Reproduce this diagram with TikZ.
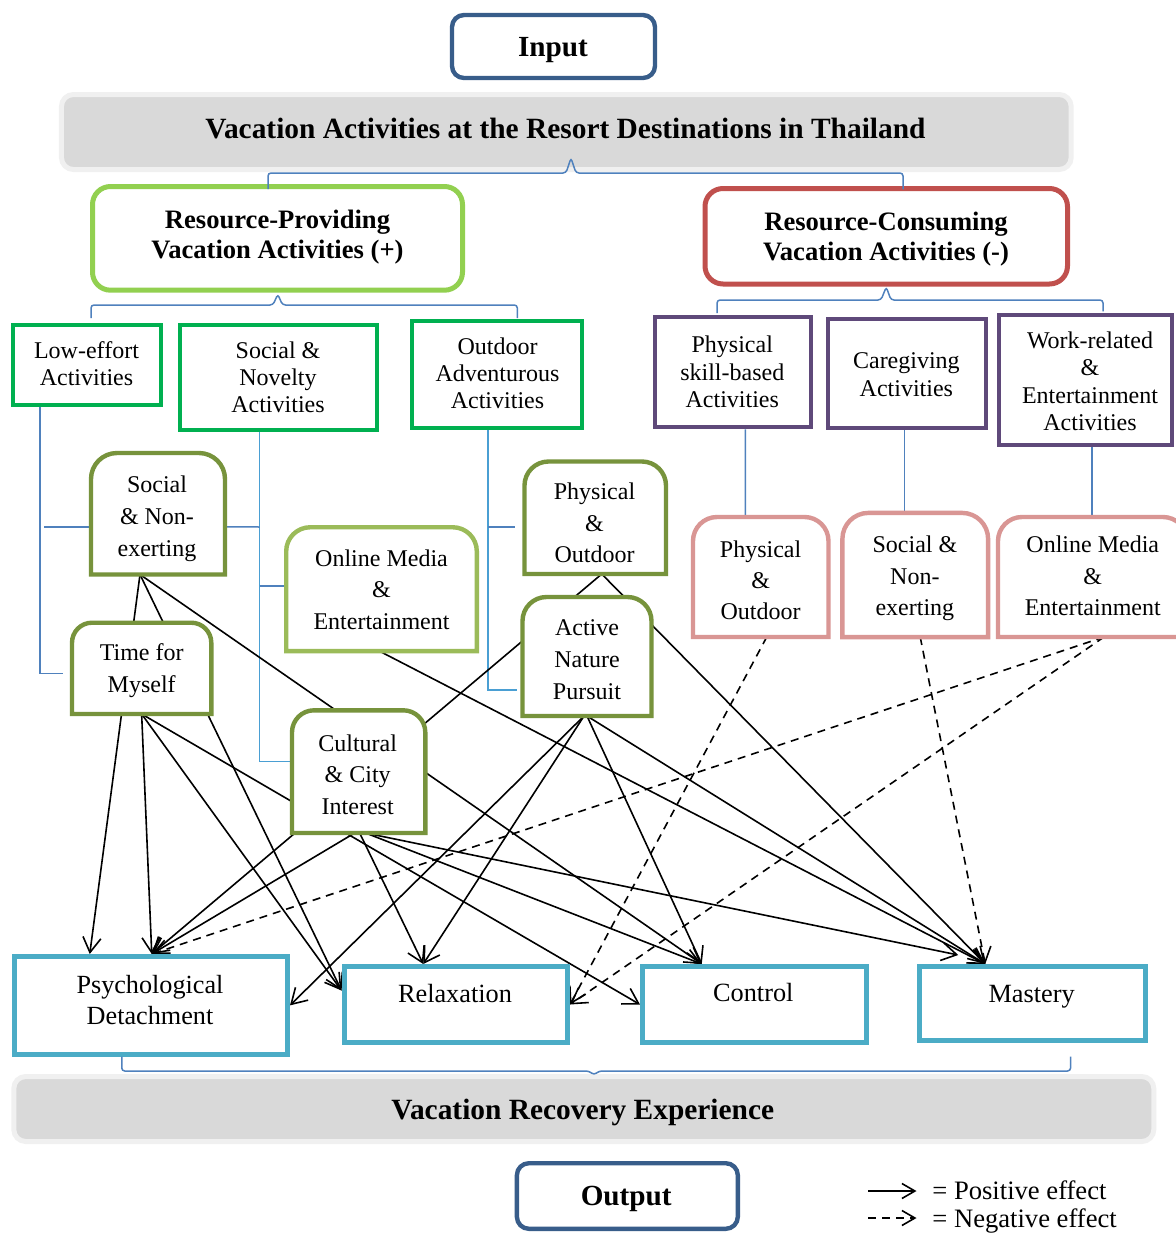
\documentclass[tikz,border=0pt]{standalone}
\usepackage{fontspec}
\setmainfont{Liberation Serif}
\usetikzlibrary{arrows.meta,calc,backgrounds}
\definecolor{inblue}{HTML}{385D8A}
\definecolor{rpgreen}{HTML}{92D050}
\definecolor{rcred}{HTML}{C0504D}
\definecolor{catgreen}{HTML}{00B050}
\definecolor{purp}{HTML}{5F497A}
\definecolor{colOlive}{HTML}{77933C}
\definecolor{colLight}{HTML}{9BBB59}
\definecolor{colPink}{HTML}{D99694}
\definecolor{colCyan}{HTML}{4BACC6}
\definecolor{colTree}{HTML}{4F81BD}
\definecolor{colTreeB}{HTML}{4A9FD3}
\definecolor{colBar}{HTML}{D9D9D9}
\definecolor{colRing}{HTML}{F0F0F0}
\newcommand{\myfs}[2]{\fontsize{#1}{#2}\selectfont}
% outline with rounded top corners and square bottom corners
\newcommand{\topround}[3]{%
  \filldraw[fill=white, draw=#2, line width=2.2pt, line join=miter]
    (#1.south west) -- ($(#1.north west)+(0,#3)$)
    arc[start angle=180, end angle=90, radius={#3*0.5pt}]
    -- ($(#1.north east)+(-#3,0)$)
    arc[start angle=90, end angle=0, radius={#3*0.5pt}]
    -- (#1.south east) -- cycle;}
\begin{document}
\begin{tikzpicture}[x=0.5pt,y=-0.5pt,
  box/.style={rectangle, inner sep=0pt, fill=white, draw},
  cat/.style={box, draw=catgreen, line width=2pt},
  pur/.style={box, draw=purp, line width=2pt},
  cyb/.style={box, draw=colCyan, line width=2.5pt},
  shp/.style={rectangle, inner sep=0pt, outer sep=0pt},
  t/.style={align=center, inner sep=0pt, outer sep=0pt, execute at begin node=\strut, execute at end node=\strut},
  arr/.style={line width=0.8pt, -{Straight Barb[length=7.5pt,width=9pt]}},
  neg/.style={arr, dash pattern=on 4pt off 3pt},
  tree/.style={draw=colTree, line width=0.75pt},
  treeb/.style={draw=colTreeB, line width=0.75pt},
  brace/.style={draw=colTree, line width=0.75pt, rounded corners=1.5pt}]
\useasboundingbox (0,0) rectangle (1175,1233);
\begin{scope}[on background layer]
  \fill[white] (0,0) rectangle (1175,1233);
\end{scope}

% ---------- boxes ----------
\node[box, draw=inblue, line width=2.2pt, rounded corners=6pt, minimum width=101.5pt, minimum height=31.5pt] (input) at (553.5,46.5) {};
\node[box, draw=colRing, fill=colBar, line width=2.5pt, rounded corners=6pt, minimum width=504.85pt, minimum height=37.5pt] (title) at (566.3,132) {};
\node[box, draw=rpgreen, line width=2.5pt, rounded corners=9pt, minimum width=185pt, minimum height=51.85pt] (rp) at (277.5,238.35) {};
\node[box, draw=rcred, line width=2.5pt, rounded corners=9pt, minimum width=181.25pt, minimum height=47.75pt] (rc) at (886.25,236.25) {};

\node[cat, minimum width=74pt, minimum height=40pt] (le) at (86.6,364.7) {};
\node[cat, minimum width=98.3pt, minimum height=52.5pt] (snv) at (278.6,377.2) {};
\node[cat, minimum width=85.05pt, minimum height=53.5pt] (oa) at (497.35,374.5) {};
\node[pur, minimum width=78.35pt, minimum height=55.15pt] (psb) at (733.05,372.15) {};
\node[pur, minimum width=79.15pt, minimum height=54.65pt] (cg) at (907.15,373.35) {};
\node[pur, minimum width=86.5pt, minimum height=65pt] (wr) at (1085.5,380.3) {};

\node[shp, minimum width=67pt, minimum height=60.75pt] (sng) at (158,513.75) {};
\node[shp, minimum width=95.3pt, minimum height=61.95pt] (omg) at (381.5,589.2) {};
\node[shp, minimum width=70.75pt, minimum height=56.25pt] (pog) at (595.25,517.75) {};
\node[shp, minimum width=64.5pt, minimum height=59.5pt] (anp) at (587,656.5) {};
\node[shp, minimum width=69.65pt, minimum height=45.65pt] (tfm) at (141.65,668.35) {};
\node[shp, minimum width=66.65pt, minimum height=61.35pt] (cul) at (358.65,771.65) {};
\node[shp, minimum width=67.75pt, minimum height=60pt] (pop) at (760.75,577) {};
\node[shp, minimum width=72.85pt, minimum height=62.1pt] (snp) at (915.25,575) {};
\node[shp, minimum width=94.5pt, minimum height=60pt] (omp) at (1092.5,577) {};

\node[cyb, minimum width=136.75pt, minimum height=48.85pt] (pd) at (150.75,1005.35) {};
\node[cyb, minimum width=111.75pt, minimum height=38pt] (relax) at (455.75,1004.5) {};
\node[cyb, minimum width=111.75pt, minimum height=38pt] (ctrl) at (754.25,1004.5) {};
\node[cyb, minimum width=112.75pt, minimum height=36.75pt] (mast) at (1032.25,1003.25) {};

\node[box, draw=colRing, fill=colBar, line width=2.5pt, rounded corners=6pt, minimum width=570pt, minimum height=32.5pt] (recbar) at (583.8,1109) {};
\node[box, draw=inblue, line width=2.2pt, rounded corners=6pt, minimum width=110.45pt, minimum height=32.8pt] (output) at (627.35,1196) {};

% rounded-top outlines
\topround{sng}{colOlive}{26}
\topround{omg}{colLight}{24}
\topround{pog}{colOlive}{24}
\topround{anp}{colOlive}{24}
\topround{tfm}{colOlive}{20}
\topround{cul}{colOlive}{22}
\topround{pop}{colPink}{24}
\topround{snp}{colPink}{26}
\topround{omp}{colPink}{24}

% ---------- texts ----------
\node[font=\bfseries\myfs{14.6}{17.5}, anchor=base, inner sep=0pt] (inputt) at (553,56.7) {Input};
\node[font=\bfseries\myfs{14.7}{17.6}, anchor=base, inner sep=0pt] (titlet) at (565.5,138.3) {Vacation Activities at the Resort Destinations in Thailand};
\node[t, font=\bfseries\myfs{13.3}{15}] (rpt) at (277.5,238.8) {Resource-Providing\\Vacation Activities (+)};
\node[t, font=\bfseries\myfs{13.3}{15}] (rct) at (886,240.5) {Resource-Consuming\\Vacation Activities (-)};
\node[t, font=\myfs{12}{13.5}] (let) at (86.5,367.5) {Low-effort\\Activities};
\node[t, font=\myfs{12}{13.6}] (snvt) at (278,381.5) {Social \&\\Novelty\\Activities};
\node[t, font=\myfs{12}{13.6}] (oat) at (497.5,377.2) {Outdoor\\Adventurous\\Activities};
\node[t, font=\myfs{12}{13.9}] (psbt) at (732.3,375.9) {Physical\\skill-based\\Activities};
\node[t, font=\myfs{12}{13.85}] (cgt) at (906.4,378.6) {Caregiving\\Activities};
\node[t, font=\myfs{12}{13.75}] (wrt) at (1090,385.5) {Work-related\\\&\\Entertainment\\Activities};
\node[t, font=\myfs{12}{15.8}] (sngt) at (157,521) {Social\\\& Non-\\exerting};
\node[t, font=\myfs{12}{15.8}] (omgt) at (381.5,594.3) {Online Media\\\&\\Entertainment};
\node[t, font=\myfs{12}{15.8}] (pogt) at (594.5,527.7) {Physical\\\&\\Outdoor};
\node[t, font=\myfs{12}{15.8}] (anpt) at (587,664.3) {Active\\Nature\\Pursuit};
\node[t, font=\myfs{12}{15.8}] (tfmt) at (141.7,673) {Time for\\Myself};
\node[t, font=\myfs{12}{15.7}] (cult) at (357.7,779) {Cultural\\\& City\\Interest};
\node[t, font=\myfs{12}{15.4}] (popt) at (760.6,584.5) {Physical\\\&\\Outdoor};
\node[t, font=\myfs{12}{15.8}] (snpt) at (914.9,580.5) {Social \&\\Non-\\exerting};
\node[t, font=\myfs{12}{15.8}] (ompt) at (1092.8,580.5) {Online Media\\\&\\Entertainment};
\node[t, font=\myfs{13.1}{15.5}] (pdt) at (150,1004.5) {Psychological\\Detachment};
\node[font=\myfs{13.15}{15.8}, anchor=base, inner sep=0pt] (relaxt) at (455,1002.5) {Relaxation};
\node[font=\myfs{13.15}{15.8}, anchor=base, inner sep=0pt] (ctrlt) at (753.3,1001.7) {Control};
\node[font=\myfs{13.15}{15.8}, anchor=base, inner sep=0pt] (mastt) at (1031.7,1002.5) {Mastery};
\node[font=\bfseries\myfs{14.7}{17.6}, anchor=base, inner sep=0pt] (rect) at (582.8,1119) {Vacation Recovery Experience};
\node[font=\bfseries\myfs{14.6}{17.5}, anchor=base, inner sep=0pt] (outputt) at (626.2,1205) {Output};

% ---------- braces ----------
\draw[brace] ($(rp.north)+(-9.5,5)$) |- (566,173) -- ($(title.south)+(4.7,-14)$) -- (576,173) -| ($(rc.north)+(16.75,3.25)$);
\draw[brace] ($(le.north)+(4.4,-4.7)$) |- (273,305) -- ($(rp.south)+(0.3,1.5)$) -- (282.5,305) -| ($(oa.north)+(20,-1)$);
\draw[brace] ($(psb.north)+(-16,-2)$) |- (881,300) -- ($(rc.south)+(0,0.5)$) -- (891,300) -| ($(wr.north)+(17.5,-2)$);
\draw[brace] ($(pd.south)+(-29,0)$) |- (589,1071) -- ($(recbar.north)+(10.2,1)$) -- (599,1071) -| ($(mast.south)+(38.3,14.2)$);

% ---------- tree lines and effect arrows (behind boxes) ----------
\begin{scope}[on background layer]
  \draw[tree] ($(le.south)+(-46.6,-1)$) |- ($(tfm.west)+(-9,5.2)$);
  \draw[tree] ($(sng.west)+(-47,13.3)$) -- ($(sng.west)+(-1,13.3)$);
  \draw[treeb] ($(snv.south)+(-19,0)$) |- ($(cul.west)+(-1,-10)$);
  \draw[tree] ($(sng.east)+(1,13)$) -- ($(snv.south)+(-19,95.3)$);
  \draw[tree] ($(omg.west)+(-26.7,-3)$) -- ($(omg.west)+(-1,-3)$);
  \draw[treeb] ($(oa.south)+(-9.4,0)$) |- ($(anp.west)+(-6,33.5)$);
  \draw[tree] ($(pog.west)+(-36.5,9.3)$) -- ($(pog.west)+(-9.5,9.3)$);
  \draw[tree] ($(psb.south)+(12.25,0)$) -- ($(pop.north)+(-15.45,0)$);
  \draw[tree] ($(cg.south)+(-2.65,0)$) -- ($(snp.north)+(-10.75,0)$);
  \draw[tree] ($(wr.south)+(6.5,0)$) -- ($(omp.north)+(-0.5,0)$);

  % positive effects
  \draw[arr] ($(sng.south)+(-18,0)$) -- ($(pd.north)+(-61,0)$);
  \draw[arr] ($(sng.south)+(-18,0)$) -- ($(relax.west)+(0,-14)$);
  \draw[arr] ($(sng.south)+(-18,0)$) -- ($(ctrl.north)+(-52.5,0)$);
  \draw[arr] (tfm.south) -- ($(pd.north)+(1,0)$);
  \draw[arr] (tfm.south) -- ($(relax.west)+(0,-14)$);
  \draw[arr] (tfm.south) -- (ctrl.west);
  \draw[arr] ($(omg.south)+(-2,0)$) -- ($(mast.north)+(-47,0)$);
  \draw[arr] ($(cul.south)+(-4,0)$) -- ($(pd.north)+(1,0)$);
  \draw[arr] ($(cul.south)+(1,0)$) -- ($(relax.north)+(-32.5,0)$);
  \draw[arr] ($(cul.south)+(7,0)$) -- ($(ctrl.north)+(-52.5,0)$);
  \draw[arr] ($(cul.south)+(7,0)$) -- ($(mast.north)+(-74,-9)$);
  \draw[arr] ($(pog.south)+(6.5,0)$) -- ($(pd.north)+(1,0)$);
  \draw[arr] ($(pog.south)+(6.5,0)$) -- ($(mast.north)+(-47,0)$);
  \draw[arr] ($(anp.south)+(-3,0)$) -- (pd.east);
  \draw[arr] ($(anp.south)+(-3,0)$) -- ($(relax.north)+(-32.5,0)$);
  \draw[arr] (anp.south) -- ($(ctrl.north)+(-52.5,0)$);
  \draw[arr] (anp.south) -- ($(mast.north)+(-47,0)$);
  % negative effects
  \draw[neg] ($(pop.south)+(6,0)$) -- (relax.east);
  \draw[neg] ($(snp.south)+(5,0)$) -- ($(mast.north)+(-47,0)$);
  \draw[neg] ($(omp.south)+(11.5,0)$) -- ($(pd.north)+(1,0)$);
  \draw[neg] ($(omp.south)+(11.5,0)$) -- (relax.east);
\end{scope}

% ---------- legend ----------
\coordinate (lga) at (868,1191);
\coordinate (lgb) at (916.5,1191);
\coordinate (lgc) at (868,1218);
\coordinate (lgd) at (916.5,1218);
\draw[line width=0.8pt, -{Straight Barb[length=6.5pt,width=7.5pt]}] (lga) -- (lgb);
\draw[line width=0.8pt, dash pattern=on 4pt off 3pt, -{Straight Barb[length=6.5pt,width=7.5pt]}] (lgc) -- (lgd);
\node[font=\myfs{13.3}{15.9}, anchor=base west, inner sep=0pt] (lgt1) at (932,1199) {= Positive effect};
\node[font=\myfs{13.3}{15.9}, anchor=base west, inner sep=0pt] (lgt2) at (932,1227) {= Negative effect};
\end{tikzpicture}
\end{document}
